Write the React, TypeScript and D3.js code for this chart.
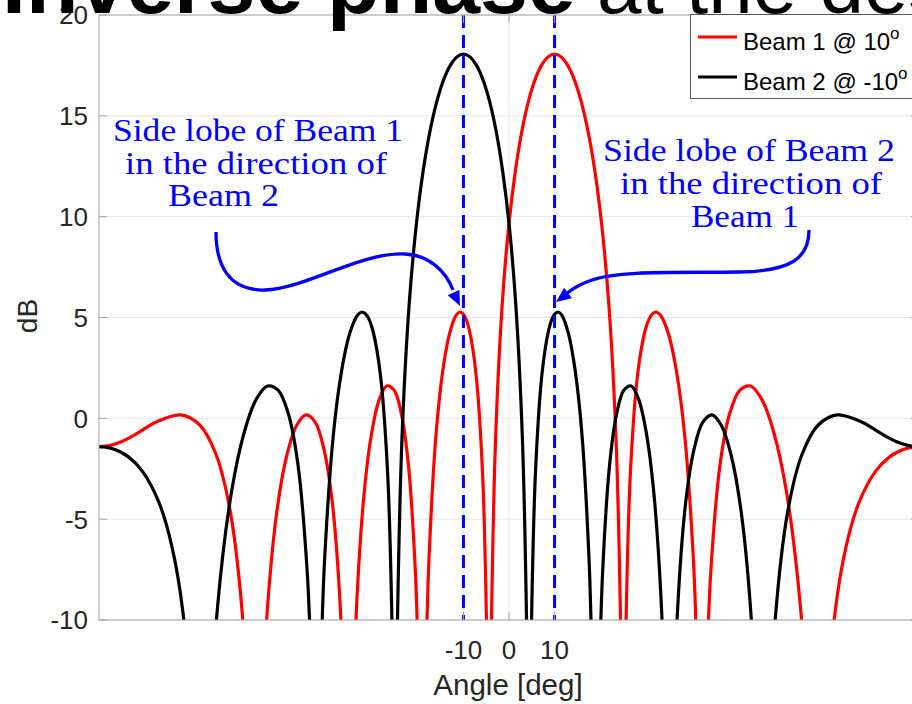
import React from 'react';
import * as d3 from 'd3';

// Beam 1 (steered to +10 deg): angle [deg] and level [dB]
const beam1Angle = [
  -90, -87.5, -85.1, -81.44, -77.52, -72.06, -67.88, -64.33, -61.21, -58.36, -56.75, -55.72,
  -54.72, -53.26, -50.94, -48.71, -46.57, -44.54, -42.55, -40.64, -38.78, -36.97, -35.9, -35.19,
  -34.49, -33.46, -31.76, -30.09, -28.45, -26.83, -25.24, -23.66, -22.11, -20.57, -19.96, -19.65, -19.05,
  -18.44, -17.99, -17.54, -16.04, -14.56, -13.08, -11.62, -10.89, -10.16, -9.43, -8.71, -7.26, -5.82, -4.95, -4.67, -4.38,
  -4.09, -3.8, -2.94, -1.51, -0.08, 1.36, 2.79, 4.22, 5.66, 7.1, 8.55, 10, 11.46, 12.92, 14.4, 15.88, 17.38, 18.89, 20.4, 21.94, 23.49, 24.43, 24.75, 25.06,
  25.38, 25.7, 26.66, 28.27, 29.91, 30.74, 31.58, 32.42, 33.27, 35.01, 36.77, 38.58, 40.44, 41.0, 41.58, 42.35,
  43.13, 43.52, 44.32, 46.36, 48.48, 50.69, 53.0, 55.46, 58.07, 60.89, 63.98, 66.02, 67.46,
  68.22, 69.01, 71.56, 73.98, 76.82, 80.45, 83.54, 86.51, 88, 90,
];
const beam1Db = [
  -1.41, -1.34, -1.16, -0.72, -0.19, 0.17, -0.33, -1.78, -4.59, -10.19, -18.04, -40,
  -18.04, -10.19, -4.59, -1.78, -0.33, 0.17, -0.19, -1.51, -4.18, -9.65, -17.41, -40,
  -17.29, -9.36, -3.62, -0.65, 0.95, 1.6, 1.4, 0.26, -2.24, -7.52, -11.74, -15.16, -40,
  -14.89, -9.97, -6.84, -0.87, 2.32, 4.18, 5.11, 5.26, 5.2, 4.92, 4.38, 2.24, -2.64, -10.02, -15.86, -40,
  -15.53, -9.36, -0.99, 5.58, 9.49, 12.2, 14.2, 15.68, 16.76, 17.49, 17.92, 18.06, 17.92, 17.49, 16.76, 15.68, 14.2, 12.2, 9.49, 5.58, -0.99, -9.36, -15.53, -40,
  -15.86, -10.02, -2.64, 2.24, 4.38, 4.92, 5.2, 5.26, 5.11, 4.18, 2.32, -0.87, -6.84, -9.97, -14.89, -40,
  -15.16, -11.74, -7.52, -2.24, 0.26, 1.4, 1.6, 0.95, -0.65, -3.62, -9.36, -17.29, -40,
  -23.38, -17.41, -9.65, -6.37, -4.18, -2.63, -1.91, -1.55, -1.45, -1.41,
];

// Beam 2 (steered to -10 deg)
const beam2Angle = [
  -90, -88, -86.51, -83.54, -80.45, -76.82, -73.98, -71.56, -69.01, -68.22, -67.46,
  -66.02, -63.98, -60.89, -58.07, -55.46, -53.0, -50.69, -48.48, -46.36, -44.32, -43.52, -43.13, -42.35,
  -41.58, -41.0, -40.44, -38.58, -36.77, -35.01, -33.27, -32.42, -31.58, -30.74, -29.91, -28.27, -26.66, -25.7, -25.38, -25.06,
  -24.75, -24.43, -23.49, -21.94, -20.4, -18.89, -17.38, -15.88, -14.4, -12.92, -11.46, -10, -8.55, -7.1, -5.66, -4.22, -2.79, -1.36, 0.08, 1.51, 2.94, 3.8, 4.09, 4.38,
  4.67, 4.95, 5.82, 7.26, 8.71, 9.43, 10.16, 10.89, 11.62, 13.08, 14.56, 16.04, 17.54, 17.99, 18.44, 19.05,
  19.65, 19.96, 20.57, 22.11, 23.66, 25.24, 26.83, 28.45, 30.09, 31.76, 33.46, 34.49, 35.19,
  35.9, 36.97, 38.78, 40.64, 42.55, 44.54, 46.57, 48.71, 50.94, 53.26, 54.72, 55.72,
  56.75, 58.36, 61.21, 64.33, 67.88, 72.06, 77.52, 81.44, 85.1, 87.5, 90,
];
const beam2Db = [
  -1.41, -1.45, -1.55, -1.91, -2.63, -4.18, -6.37, -9.65, -17.41, -23.38, -40,
  -17.29, -9.36, -3.62, -0.65, 0.95, 1.6, 1.4, 0.26, -2.24, -7.52, -11.74, -15.16, -40,
  -14.89, -9.97, -6.84, -0.87, 2.32, 4.18, 5.11, 5.26, 5.2, 4.92, 4.38, 2.24, -2.64, -10.02, -15.86, -40,
  -15.53, -9.36, -0.99, 5.58, 9.49, 12.2, 14.2, 15.68, 16.76, 17.49, 17.92, 18.06, 17.92, 17.49, 16.76, 15.68, 14.2, 12.2, 9.49, 5.58, -0.99, -9.36, -15.53, -40,
  -15.86, -10.02, -2.64, 2.24, 4.38, 4.92, 5.2, 5.26, 5.11, 4.18, 2.32, -0.87, -6.84, -9.97, -14.89, -40,
  -15.16, -11.74, -7.52, -2.24, 0.26, 1.4, 1.6, 0.95, -0.65, -3.62, -9.36, -17.29, -40,
  -17.41, -9.65, -4.18, -1.51, -0.19, 0.17, -0.33, -1.78, -4.59, -10.19, -18.04, -40,
  -18.04, -10.19, -4.59, -1.78, -0.33, 0.17, -0.19, -0.72, -1.16, -1.34, -1.41,
];

const yTicks = [-10, -5, 0, 5, 10, 15, 20];
const xTicks = [-10, 0, 10];
const markedAngles = [-10, 10];
const legendLabels = ['Beam 1 @ 10', 'Beam 2 @ -10'];
const seriesColors = ['#ff0000', '#000000'];
const leftNote = ['Side lobe of Beam 1', 'in the direction of', 'Beam 2'];
const rightNote = ['Side lobe of Beam 2', 'in the direction of', 'Beam 1'];

const SANS = 'Liberation Sans, Arial, Helvetica, sans-serif';
const SERIF = 'Liberation Serif, Times New Roman, serif';

function arrowHead(tip: [number, number], from: [number, number], len = 15, half = 6.5) {
  const dx = tip[0] - from[0];
  const dy = tip[1] - from[1];
  const n = Math.hypot(dx, dy);
  const ux = dx / n, uy = dy / n;
  const bx = tip[0] - ux * len, by = tip[1] - uy * len;
  return `M${tip[0]},${tip[1]}L${bx - uy * half},${by + ux * half}L${bx + uy * half},${by - ux * half}Z`;
}

export default function App() {
  const W = 912, H = 704;
  const left = 99, right = 919, top = 15, bottom = 620;
  const x = d3.scaleLinear().domain([-90, 90]).range([left, right]);
  const y = d3.scaleLinear().domain([-10, 20]).range([bottom, top]);
  const line = d3
    .line<[number, number]>()
    .x((d) => x(d[0]))
    .y((d) => y(d[1]))
    .curve(d3.curveCatmullRom.alpha(0.5));
  const s1 = beam1Angle.map((a, i) => [a, beam1Db[i]] as [number, number]);
  const s2 = beam2Angle.map((a, i) => [a, beam2Db[i]] as [number, number]);
  const axisColor = '#a3a3a3';
  const gridColor = '#e6e6e6';
  const textColor = '#262626';

  const leftArrow = 'M216,232 C216,264 228,291 265,290 C305,289 360,252 405,254 C430,255 446,272 453,290';
  const rightArrow = 'M809,230 C809,259 790,271 740,272 C680,273 620,270 592,280 C580,284 572,289 566,294';

  return (
    <svg width={W} height={H} style={{ position: 'absolute', left: 0, top: 0, background: '#fff' }}>
      <defs>
        <clipPath id="plotClip">
          <rect x={left} y={top} width={right - left} height={bottom - top} />
        </clipPath>
      </defs>
      <rect x={0} y={0} width={W} height={H} fill="#fff" />
      {/* grid */}
      {yTicks.map((t) => (
        <line key={'gy' + t} x1={left} x2={right} y1={y(t)} y2={y(t)} stroke={gridColor} strokeWidth={1} />
      ))}
      {xTicks.map((t) => (
        <line key={'gx' + t} x1={x(t)} x2={x(t)} y1={top} y2={bottom} stroke={gridColor} strokeWidth={1} />
      ))}
      {/* curves */}
      <g clipPath="url(#plotClip)">
        <path d={line(s1) || ''} fill="none" stroke={seriesColors[0]} strokeWidth={3.2} strokeLinejoin="round" />
        <path d={line(s2) || ''} fill="none" stroke={seriesColors[1]} strokeWidth={3.2} strokeLinejoin="round" />
        {markedAngles.map((a) => (
          <line key={'m' + a} x1={x(a)} x2={x(a)} y1={top} y2={bottom} stroke="#0000ff" strokeWidth={3} strokeDasharray="13 7" />
        ))}
      </g>
      {/* axes box */}
      <rect x={left} y={top} width={right - left} height={bottom - top} fill="none" stroke={axisColor} strokeWidth={1} />
      {yTicks.map((t) => (
        <g key={'ty' + t}>
          <line x1={left} x2={left + 8} y1={y(t)} y2={y(t)} stroke={axisColor} />
          <line x1={right - 8} x2={right} y1={y(t)} y2={y(t)} stroke={axisColor} />
          <text x={88} y={y(t)} dy="0.36em" textAnchor="end" fontFamily={SANS} fontSize={26} fill={textColor}>
            {t}
          </text>
        </g>
      ))}
      {xTicks.map((t) => (
        <g key={'tx' + t}>
          <line x1={x(t)} x2={x(t)} y1={bottom} y2={bottom - 8} stroke={axisColor} />
          <line x1={x(t)} x2={x(t)} y1={top} y2={top + 8} stroke={axisColor} />
          <text x={x(t)} y={659} textAnchor="middle" fontFamily={SANS} fontSize={26} fill={textColor}>
            {t}
          </text>
        </g>
      ))}
      <text x={(left + right) / 2 - 1} y={695} textAnchor="middle" fontFamily={SANS} fontSize={29.5} fill={textColor}>
        Angle [deg]
      </text>
      <text transform="translate(37,316) rotate(-90)" textAnchor="middle" fontFamily={SANS} fontSize={28} fill={textColor}>
        dB
      </text>
      {/* title (cropped) */}
      <text x={2} y={13} fontFamily={SANS} fontSize={86} fontWeight="bold" fill="#000">
        Inverse phase
      </text>
      <text x={597} y={13} fontFamily={SANS} fontSize={80} fill="#000">
        at the desired angles
      </text>
      {/* annotations */}
      <g fill="#0000ff" fontFamily={SERIF} fontSize={32}>
        <text x={113} y={141} textLength={290} lengthAdjust="spacingAndGlyphs">{leftNote[0]}</text>
        <text x={125} y={173.5} textLength={262} lengthAdjust="spacingAndGlyphs">{leftNote[1]}</text>
        <text x={168} y={206} textLength={111} lengthAdjust="spacingAndGlyphs">{leftNote[2]}</text>
        <text x={603} y={161} textLength={292} lengthAdjust="spacingAndGlyphs">{rightNote[0]}</text>
        <text x={620} y={194} textLength={262} lengthAdjust="spacingAndGlyphs">{rightNote[1]}</text>
        <text x={691} y={227} textLength={108} lengthAdjust="spacingAndGlyphs">{rightNote[2]}</text>
      </g>
      <path d={leftArrow} fill="none" stroke="#0000ff" strokeWidth={3.3} />
      <path d={arrowHead([460, 306], [451, 287])} fill="#0000ff" />
      <path d={rightArrow} fill="none" stroke="#0000ff" strokeWidth={3.3} />
      <path d={arrowHead([556, 302], [572, 290])} fill="#0000ff" />
      {/* legend */}
      <rect x={690.5} y={14.5} width={260} height={84} fill="#fff" stroke="#555" strokeWidth={1} />
      {legendLabels.map((lab, i) => (
        <g key={lab}>
          <line x1={698} x2={737} y1={37 + i * 40} y2={37 + i * 40} stroke={seriesColors[i]} strokeWidth={3} />
          <text x={743} y={50 + i * 40} fontFamily={SANS} fontSize={24} fill="#000">
            {lab}
            <tspan fontSize={17} dy={-11}>o</tspan>
          </text>
        </g>
      ))}
    </svg>
  );
}
